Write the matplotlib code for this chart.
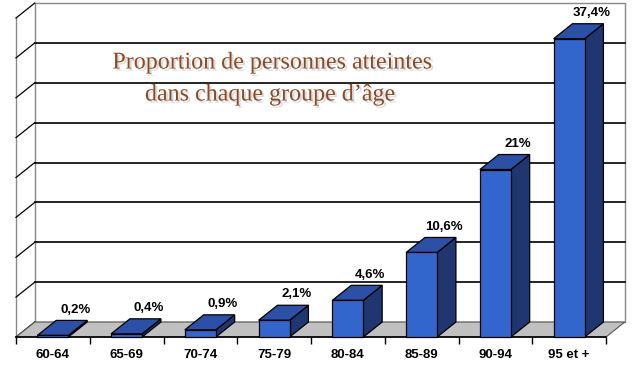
import matplotlib.pyplot as plt
from matplotlib.patches import Polygon
import matplotlib.patheffects as pe
import numpy as np

# données
groupes = ['60-64', '65-69', '70-74', '75-79', '80-84', '85-89', '90-94', '95 et +']
valeurs = [0.2, 0.4, 0.9, 2.1, 4.6, 10.6, 21.0, 37.4]
etiquettes = ['0,2%', '0,4%', '0,9%', '2,1%', '4,6%', '10,6%', '21%', '37,4%']

ymax = 40
pas = 5
# profondeur de la perspective (en unités de données)
dx = 0.255
dy = 1.88
largeur = 0.42

c_face = '#3366CC'
c_haut = '#2B50A6'
c_cote = '#1F3670'
c_sol = '#C0C0C0'

fig = plt.figure(figsize=(6.4, 3.65), dpi=100)
ax = fig.add_axes([16 / 640, 28 / 365, 590 / 640, 319 / 365])
ax.set_xlim(-0.5, len(groupes) - 0.5)
ax.set_ylim(0, ymax)
for s in ['top', 'right', 'left']:
    ax.spines[s].set_visible(False)
ax.spines['bottom'].set_color('black')
ax.spines['bottom'].set_linewidth(1.2)

x = np.arange(len(groupes))
x0, x1 = -0.5, len(groupes) - 0.5

# mur du fond
ax.add_patch(Polygon([(x0 + dx, dy), (x1 + dx, dy), (x1 + dx, ymax + dy), (x0 + dx, ymax + dy)],
                     closed=True, facecolor='white', edgecolor='#888888', lw=1, clip_on=False, zorder=0))
for v in np.arange(pas, ymax, pas):
    ax.plot([x0 + dx, x1 + dx], [v + dy, v + dy], color='black', lw=1.2, clip_on=False, zorder=1)

# mur de gauche
ax.plot([x0, x0], [0, ymax], color='#888888', lw=1, clip_on=False, zorder=1)
for v in np.arange(0, ymax + pas, pas):
    ax.plot([x0, x0 + dx], [v, v + dy], color='black', lw=0.9, clip_on=False, zorder=1)

# sol
ax.add_patch(Polygon([(x0, 0), (x1, 0), (x1 + dx, dy), (x0 + dx, dy)],
                     closed=True, facecolor=c_sol, edgecolor='#555555', lw=0.8, clip_on=False, zorder=1))

# barres 3D
for xi, v, lab in zip(x, valeurs, etiquettes):
    g, d = xi - largeur / 2, xi + largeur / 2
    ax.add_patch(Polygon([(d, 0), (d + dx, dy), (d + dx, v + dy), (d, v)],
                         closed=True, facecolor=c_cote, edgecolor='black', lw=0.9, clip_on=False, zorder=3))
    ax.add_patch(Polygon([(g, v), (d, v), (d + dx, v + dy), (g + dx, v + dy)],
                         closed=True, facecolor=c_haut, edgecolor='black', lw=0.9, clip_on=False, zorder=3))
    ax.text(xi + dx + 0.05, v + dy + 0.6, lab, ha='center', va='bottom',
            fontsize=9.5, fontweight='bold', family='Liberation Sans', zorder=5)
ax.bar(x, valeurs, width=largeur, color=c_face, edgecolor='black', linewidth=0.9, zorder=4, clip_on=False)

# axe des x
ax.set_yticks([])
ax.set_xticks(np.arange(-0.5, len(groupes), 1.0))
ax.set_xticklabels([])
ax.tick_params(axis='x', which='major', length=5, width=1, color='black', direction='out')
ax.set_xticks(x, minor=True)
ax.set_xticklabels(groupes, minor=True, fontsize=9.5, fontweight='bold', family='Liberation Sans')
ax.tick_params(axis='x', which='minor', length=0, pad=9)

# titre
ombre = [pe.SimplePatchShadow(offset=(1.5, -1.5), shadow_rgbFace='#999999', alpha=0.35), pe.Normal()]
fig.text(272 / 640, 1 - 63 / 365, 'Proportion de personnes atteintes', ha='center', va='center',
         fontsize=17.3, color='#8B4A26', family='Liberation Serif', path_effects=ombre)
fig.text(270 / 640, 1 - 95 / 365, 'dans chaque groupe d\u2019âge', ha='center', va='center',
         fontsize=17.3, color='#8B4A26', family='Liberation Serif', path_effects=ombre)

fig.savefig('out.png', dpi=100)
